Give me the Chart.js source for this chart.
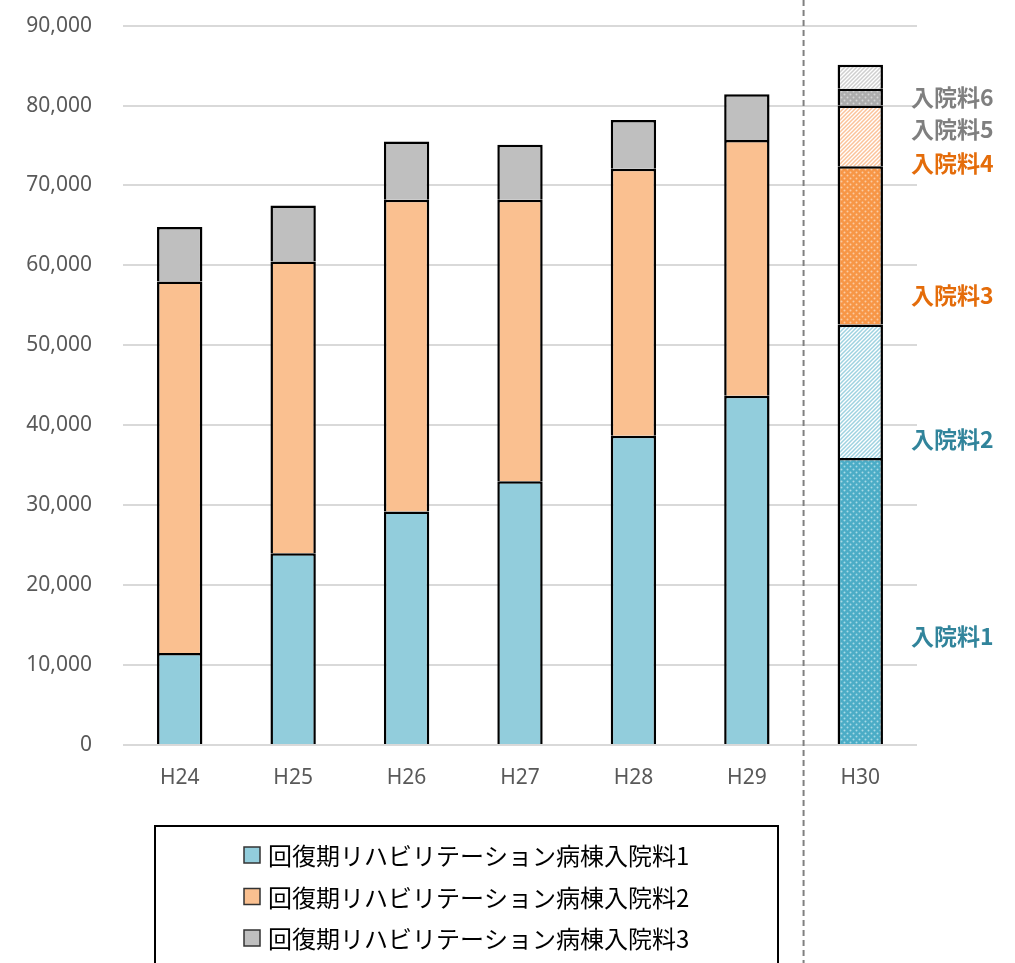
<!DOCTYPE html>
<html>
<head>
<meta charset="utf-8">
<script src="https://cdn.jsdelivr.net/npm/chart.js@4"></script>
<style>
  html, body { margin: 0; padding: 0; background: #fff; }
  #wrap { width: 1015px; height: 963px; }
</style>
</head>
<body>
<div id="wrap"><canvas id="chart" width="1015" height="963"></canvas></div>
<script>
const CATEGORIES = [`H24`, `H25`, `H26`, `H27`, `H28`, `H29`, `H30`]
const SERIES_NAMES = [
  `回復期リハビリテーション病棟入院料1`,
  `回復期リハビリテーション病棟入院料2`,
  `回復期リハビリテーション病棟入院料3`
]
// H24-H29 under the old three-tier scheme
const FEE1 = [11500, 24000, 29200, 33000, 38700, 43700, null]
const FEE2 = [46500, 36500, 39000, 35200, 33400, 32000, null]
const FEE3 = [6800, 7000, 7300, 6900, 6100, 5700, null]
// H30 under the new six-tier scheme
const H30_NAMES = [`入院料1`, `入院料2`, `入院料3`, `入院料4`, `入院料5`, `入院料6`]
const H30_VALUES = [35900, 16700, 19800, 7600, 2100, 3000]

const COLORS = {
  blue: `#92CDDC`,
  orange: `#FAC090`,
  gray: `#BFBFBF`,
  teal: `#31849B`,
  darkOrange: `#E46C0A`,
  label: `#7F7F7F`,
  tick: `#595959`,
  grid: `#D9D9D9`
}

const dots = (base, dot) => {
  const c = document.createElement(`canvas`)
  c.width = 6
  c.height = 6
  const g = c.getContext(`2d`)
  g.fillStyle = base
  g.fillRect(0, 0, 6, 6)
  g.fillStyle = dot
  ;[[1.5, 1.5], [4.5, 4.5]].forEach(([x, y]) => {
    g.beginPath()
    g.arc(x, y, 1, 0, Math.PI * 2)
    g.fill()
  })
  return g.createPattern(c, `repeat`)
}

const hatch = line => {
  const c = document.createElement(`canvas`)
  c.width = 4
  c.height = 4
  const g = c.getContext(`2d`)
  g.fillStyle = `#fff`
  g.fillRect(0, 0, 4, 4)
  g.strokeStyle = line
  g.lineWidth = 1.5
  g.beginPath()
  g.moveTo(-1, 5); g.lineTo(5, -1)
  g.moveTo(-1, 1); g.lineTo(1, -1)
  g.moveTo(3, 5); g.lineTo(5, 3)
  g.stroke()
  return g.createPattern(c, `repeat`)
}

const H30_FILLS = [
  dots(`#4BACC6`, `#A9DAE6`),
  hatch(`#9ED2E0`),
  dots(`#F79646`, `#FBCBA3`),
  hatch(`#FBC39A`),
  dots(`#ADADAD`, `#D6D6D6`),
  hatch(`#CFCFCF`)
]
const H30_LABEL_COLORS = [COLORS.teal, COLORS.teal, COLORS.darkOrange, COLORS.darkOrange, COLORS.label, COLORS.label]
// value heights at which each H30 caption sits beside the bar
const H30_LABEL_AT = [13600, 38200, 56300, 72800, 77000, 81000]

const bar = (label, data, backgroundColor) => ({
  label,
  data,
  backgroundColor,
  borderColor: `#000`,
  borderWidth: 2.5,
  borderSkipped: `start`,
  inflateAmount: 0,
  stack: `all`
})

const datasets = [
  bar(SERIES_NAMES[0], FEE1, COLORS.blue),
  bar(SERIES_NAMES[1], FEE2, COLORS.orange),
  bar(SERIES_NAMES[2], FEE3, COLORS.gray),
  ...H30_VALUES.map((v, i) =>
    bar(H30_NAMES[i], CATEGORIES.map((c, j) => j === CATEGORIES.length - 1 ? v : null), H30_FILLS[i]))
]

const extras = {
  id: `extras`,
  afterDraw(chart) {
    const { ctx, scales: { x, y } } = chart
    ctx.save()

    // dashed divider between H29 and H30
    const dx = (x.getPixelForValue(5) + x.getPixelForValue(6)) / 2
    ctx.strokeStyle = `#808080`
    ctx.lineWidth = 2
    ctx.setLineDash([6, 4])
    ctx.beginPath()
    ctx.moveTo(dx, 0)
    ctx.lineTo(dx, chart.height)
    ctx.stroke()
    ctx.setLineDash([])

    // captions for the H30 tiers
    const meta = chart.getDatasetMeta(3)
    const barRight = meta.data[6].x + meta.data[6].width / 2
    ctx.font = `bold 23px "Noto Sans CJK JP"`
    ctx.textAlign = `left`
    ctx.textBaseline = `middle`
    H30_NAMES.forEach((name, i) => {
      ctx.fillStyle = H30_LABEL_COLORS[i]
      ctx.fillText(name, barRight + 28, y.getPixelForValue(H30_LABEL_AT[i]))
    })

    // boxed legend for the three old tiers
    const left = 155, right = 778, top = 826
    ctx.strokeStyle = `#000`
    ctx.lineWidth = 2
    ctx.strokeRect(left, top, right - left, chart.height - top + 20)
    ctx.font = `24px "Noto Sans CJK JP"`
    SERIES_NAMES.forEach((name, i) => {
      const cy = 855 + i * 41.5
      ctx.fillStyle = datasets[i].backgroundColor
      ctx.fillRect(244, cy - 8, 16, 16)
      ctx.strokeStyle = `#333`
      ctx.lineWidth = 1.5
      ctx.strokeRect(244, cy - 8, 16, 16)
      ctx.fillStyle = `#000`
      ctx.fillText(name, 268, cy + 1)
    })
    ctx.restore()
  }
}

new Chart(document.getElementById(`chart`).getContext(`2d`), {
  type: `bar`,
  data: { labels: CATEGORIES, datasets },
  options: {
    responsive: false,
    animation: false,
    layout: { padding: { top: 0, right: 98, bottom: 168, left: 0 } },
    datasets: { bar: { barPercentage: 0.4, categoryPercentage: 1 } },
    plugins: {
      legend: { display: false },
      tooltip: { enabled: false }
    },
    scales: {
      x: {
        stacked: true,
        grid: { display: false },
        border: { display: false },
        ticks: { color: COLORS.tick, font: { family: `Noto Sans`, size: 21 }, padding: 12 },
        afterFit: s => { s.height = 50 }
      },
      y: {
        stacked: true,
        min: 0,
        max: 90000,
        grid: { color: COLORS.grid, lineWidth: 2, tickLength: 18, tickColor: `transparent` },
        border: { display: false },
        ticks: {
          stepSize: 10000,
          color: COLORS.tick,
          font: { family: `Noto Sans`, size: 21 },
          padding: 13,
          callback: v => v.toLocaleString(`en-US`)
        },
        afterFit: s => { s.width = 123 }
      }
    }
  },
  plugins: [extras]
})
</script>
</body>
</html>
